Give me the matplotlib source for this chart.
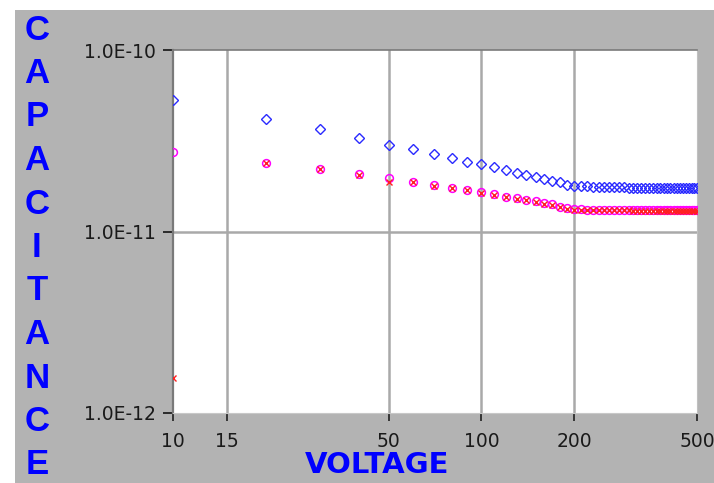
import matplotlib
matplotlib.use("Agg")
import matplotlib.pyplot as plt
from matplotlib.patches import Rectangle
from matplotlib.ticker import FixedLocator, NullLocator, FixedFormatter

# ---- data ----
voltage = [10, 20, 30, 40, 50, 60, 70, 80, 90, 100,
           110, 120, 130, 140, 150, 160, 170, 180, 190, 200,
           210, 220, 230, 240, 250, 260, 270, 280, 290, 300,
           310, 320, 330, 340, 350, 360, 370, 380, 390, 400,
           410, 420, 430, 440, 450, 460, 470, 480, 490, 500]

cap_blue = [5.30e-11, 4.16e-11, 3.66e-11, 3.27e-11, 2.98e-11, 2.84e-11, 2.68e-11, 2.54e-11, 2.43e-11, 2.34e-11,
            2.27e-11, 2.17e-11, 2.10e-11, 2.06e-11, 2.00e-11, 1.95e-11, 1.90e-11, 1.87e-11, 1.80e-11, 1.78e-11,
            1.77e-11, 1.77e-11, 1.76e-11, 1.76e-11, 1.76e-11, 1.75e-11, 1.75e-11, 1.75e-11, 1.75e-11, 1.74e-11,
            1.74e-11, 1.74e-11, 1.74e-11, 1.74e-11, 1.73e-11, 1.73e-11, 1.73e-11, 1.73e-11, 1.73e-11, 1.73e-11,
            1.73e-11, 1.73e-11, 1.73e-11, 1.73e-11, 1.73e-11, 1.73e-11, 1.73e-11, 1.73e-11, 1.73e-11, 1.73e-11]

cap_magenta = [2.73e-11, 2.39e-11, 2.22e-11, 2.07e-11, 1.98e-11, 1.88e-11, 1.80e-11, 1.74e-11, 1.70e-11, 1.65e-11,
               1.60e-11, 1.55e-11, 1.52e-11, 1.50e-11, 1.47e-11, 1.43e-11, 1.41e-11, 1.37e-11, 1.34e-11, 1.33e-11,
               1.33e-11, 1.32e-11, 1.32e-11, 1.32e-11, 1.32e-11, 1.32e-11, 1.32e-11, 1.32e-11, 1.32e-11, 1.32e-11,
               1.31e-11, 1.31e-11, 1.31e-11, 1.31e-11, 1.31e-11, 1.31e-11, 1.31e-11, 1.31e-11, 1.31e-11, 1.31e-11,
               1.31e-11, 1.31e-11, 1.31e-11, 1.31e-11, 1.31e-11, 1.31e-11, 1.31e-11, 1.31e-11, 1.31e-11, 1.31e-11]

cap_red = [1.56e-12, 2.39e-11, 2.20e-11, 2.04e-11, 1.88e-11, 1.87e-11, 1.78e-11, 1.73e-11, 1.69e-11, 1.64e-11,
           1.59e-11, 1.54e-11, 1.51e-11, 1.49e-11, 1.46e-11, 1.42e-11, 1.40e-11, 1.36e-11, 1.33e-11, 1.32e-11,
           1.32e-11, 1.31e-11, 1.31e-11, 1.31e-11, 1.31e-11, 1.31e-11, 1.31e-11, 1.31e-11, 1.31e-11, 1.31e-11,
           1.30e-11, 1.30e-11, 1.30e-11, 1.30e-11, 1.30e-11, 1.30e-11, 1.30e-11, 1.30e-11, 1.30e-11, 1.30e-11,
           1.30e-11, 1.30e-11, 1.30e-11, 1.30e-11, 1.30e-11, 1.30e-11, 1.30e-11, 1.30e-11, 1.30e-11, 1.30e-11]

x_ticks = [10, 15, 50, 100, 200, 500]
x_tick_labels = ["10", "15", "50", "100", "200", "500"]
y_ticks = [1e-12, 1e-11, 1e-10]
y_tick_labels = ["1.0E-12", "1.0E-11", "1.0E-10"]
x_grid = [15, 50, 100, 200]
y_grid = [1e-11]
ylabel_text = "CAPACITANCE"
xlabel_text = "VOLTAGE"

# ---- figure ----
W, H = 714, 483
BG = "#b3b3b3"
fig = plt.figure(figsize=(W / 100, H / 100), dpi=100)
fig.patch.set_facecolor("white")
bg = Rectangle((15 / W, 0), 1 - 15 / W, (H - 10) / H,
               transform=fig.transFigure, facecolor=BG,
               edgecolor="none", zorder=-10)
fig.add_artist(bg)

ax = fig.add_axes([173 / W, 1 - 413 / H, (697 - 173) / W, (413 - 50) / H])
ax.set_zorder(1)
ax.set_facecolor("white")
ax.set_xscale("log")
ax.set_yscale("log")
ax.set_xlim(10, 500)
ax.set_ylim(1e-12, 1e-10)

for xv in x_grid:
    ax.axvline(xv, color="#a9a9a9", lw=1.8, zorder=1)
for yv in y_grid:
    ax.axhline(yv, color="#a9a9a9", lw=1.8, zorder=1)

ax.plot(voltage, cap_blue, linestyle="none", marker="D", markersize=4.6,
        markerfacecolor="none", markeredgecolor="#2a2aff", markeredgewidth=1.0, zorder=3)
ax.plot(voltage, cap_magenta, linestyle="none", marker="o", markersize=5.6,
        markerfacecolor="none", markeredgecolor="#ff00ff", markeredgewidth=1.1, zorder=3)
ax.plot(voltage, cap_red, linestyle="none", marker="x", markersize=4.5,
        markeredgecolor="#ff2020", markeredgewidth=1.0, zorder=4)

ax.xaxis.set_major_locator(FixedLocator(x_ticks))
ax.xaxis.set_major_formatter(FixedFormatter(x_tick_labels))
ax.xaxis.set_minor_locator(NullLocator())
ax.yaxis.set_major_locator(FixedLocator(y_ticks))
ax.yaxis.set_major_formatter(FixedFormatter(y_tick_labels))
ax.yaxis.set_minor_locator(NullLocator())

ax.tick_params(axis="x", direction="out", length=6, width=1.2, color="#202020",
               labelsize=13.5, labelcolor="#1a1a1a", pad=8)
ax.tick_params(axis="y", direction="out", length=7, width=1.3, color="#202020",
               labelsize=13.5, labelcolor="#1a1a1a", pad=5)

ax.spines["top"].set_color("#7a7a7a")
ax.spines["top"].set_linewidth(1.2)
ax.spines["left"].set_color("#7a7a7a")
ax.spines["left"].set_linewidth(1.6)
ax.spines["bottom"].set_color("#c8c8c8")
ax.spines["bottom"].set_linewidth(0.8)
ax.spines["right"].set_color("#c0c0c0")
ax.spines["right"].set_linewidth(0.8)

# x-axis label
fig.text(377 / W, 1 - 465 / H, xlabel_text, color="#0000ff", fontsize=21,
         fontweight="heavy", ha="center", va="center", family="DejaVu Sans", zorder=2)

# stacked vertical y-axis label
y0, step = 30, 43.5
for i, ch in enumerate(ylabel_text):
    fig.text(37 / W, 1 - (y0 + i * step) / H, ch, color="#0000ff", fontsize=25,
             fontweight="bold", ha="center", va="center", family="Liberation Sans", zorder=2)

fig.savefig("out.png", dpi=100, facecolor=fig.get_facecolor())
